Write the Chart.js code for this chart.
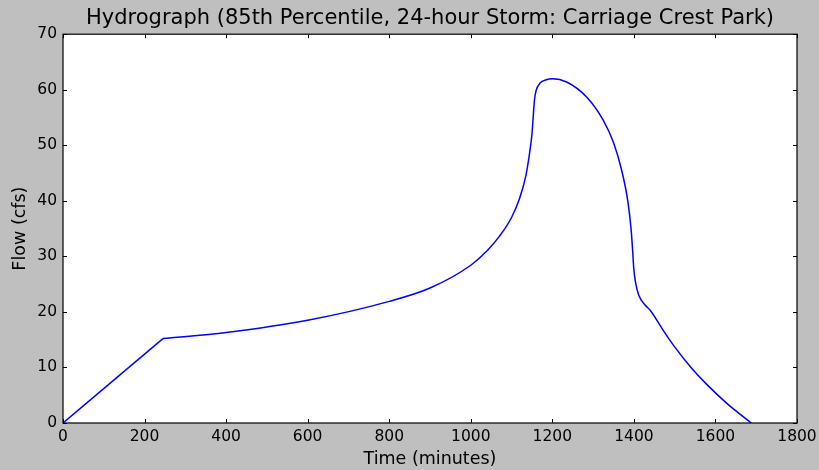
<!DOCTYPE html>
<html>
<head>
<meta charset="utf-8">
<script src="https://cdn.jsdelivr.net/npm/chart.js@4"></script>
<style>
  html, body { margin: 0; padding: 0; background: #bfbfbf; }
  #wrap { width: 819px; height: 470px; }
</style>
</head>
<body>
<div id="wrap"><canvas id="hydro" width="819" height="470"></canvas></div>
<script>
// rising limb (straight line)
const riseTime = [0, 245];
const riseFlow = [0, 15.2];

// rest of the hydrograph
const timeMin = [245, 400, 600, 800, 900, 1000, 1040, 1070, 1100, 1120, 1135, 1145, 1150, 1153, 1156, 1160, 1170, 1185, 1200, 1235, 1284, 1325, 1350, 1370, 1385, 1393, 1397, 1399.5, 1404, 1412, 1428, 1440, 1470, 1500, 1540, 1578, 1630, 1688];
const flowCfs = [15.2, 16.3, 18.5, 21.9, 24.3, 28.4, 31.0, 33.6, 37.0, 40.5, 44.5, 49.0, 52.0, 55.0, 58.0, 59.8, 61.2, 61.8, 62.0, 61.4, 58.7, 54.5, 50.5, 45.5, 40.0, 35.0, 31.0, 28.0, 25.3, 23.0, 21.2, 20.3, 16.9, 13.7, 10.0, 7.0, 3.4, 0];

const xTicks = [0, 200, 400, 600, 800, 1000, 1200, 1400, 1600, 1800];
const yTicks = [0, 10, 20, 30, 40, 50, 60, 70];

const FONT = "'DejaVu Sans', Verdana, sans-serif";
const LINE = '#0000ff';

// white plot area, black frame, inward ticks on all four sides
const framePlugin = {
  id: 'frame',
  beforeDraw(chart) {
    const { ctx, chartArea: a } = chart;
    ctx.save();
    ctx.fillStyle = '#ffffff';
    ctx.fillRect(a.left, a.top, a.right - a.left, a.bottom - a.top);
    ctx.restore();
  },
  afterDraw(chart) {
    const { ctx, chartArea: a, scales } = chart;
    const len = 4;
    ctx.save();
    ctx.strokeStyle = '#000000';
    ctx.lineWidth = 1;
    ctx.beginPath();
    xTicks.forEach(v => {
      const px = Math.round(scales.x.getPixelForValue(v)) + 0.5;
      ctx.moveTo(px, a.bottom); ctx.lineTo(px, a.bottom - len);
      ctx.moveTo(px, a.top); ctx.lineTo(px, a.top + len);
    });
    yTicks.forEach(v => {
      const py = Math.round(scales.y.getPixelForValue(v)) + 0.5;
      ctx.moveTo(a.left, py); ctx.lineTo(a.left + len, py);
      ctx.moveTo(a.right, py); ctx.lineTo(a.right - len, py);
    });
    ctx.stroke();
    ctx.lineWidth = 1.2;
    ctx.strokeRect(a.left, a.top, a.right - a.left, a.bottom - a.top);
    ctx.restore();
  }
};

const ctx = document.getElementById('hydro').getContext('2d');

new Chart(ctx, {
  type: 'scatter',
  data: {
    datasets: [{
      label: 'Rising limb',
      data: riseTime.map((t, i) => ({ x: t, y: riseFlow[i] })),
      showLine: true,
      borderColor: LINE,
      borderWidth: 1.5,
      pointRadius: 0,
      tension: 0,
      fill: false
    }, {
      label: 'Flow',
      data: timeMin.map((t, i) => ({ x: t, y: flowCfs[i] })),
      showLine: true,
      borderColor: LINE,
      borderWidth: 1.5,
      pointRadius: 0,
      cubicInterpolationMode: 'monotone',
      fill: false
    }]
  },
  options: {
    responsive: false,
    animation: false,
    layout: { padding: { left: 0, right: 22, top: 0, bottom: 0 } },
    plugins: {
      legend: { display: false },
      tooltip: { enabled: false },
      title: {
        display: true,
        fullSize: false,
        text: 'Hydrograph (85th Percentile, 24-hour Storm: Carriage Crest Park)',
        color: '#000000',
        font: { family: FONT, size: 21, weight: 'normal' },
        padding: { top: 6, bottom: 3 }
      }
    },
    scales: {
      x: {
        type: 'linear',
        min: 0,
        max: 1800,
        afterBuildTicks: s => { s.ticks = xTicks.map(v => ({ value: v })); },
        afterFit: s => { s.height = 47; s.paddingRight = 0; s.paddingLeft = 0; },
        grid: { display: false, drawTicks: false },
        border: { display: false },
        ticks: {
          color: '#000000',
          font: { family: FONT, size: 15.5 },
          padding: 5,
          maxRotation: 0,
          callback: v => String(v)
        },
        title: {
          display: true,
          text: 'Time (minutes)',
          color: '#000000',
          font: { family: FONT, size: 17.5 },
          padding: { top: 0, bottom: 0 }
        }
      },
      y: {
        type: 'linear',
        min: 0,
        max: 70,
        afterBuildTicks: s => { s.ticks = yTicks.map(v => ({ value: v })); },
        afterFit: s => { s.width = 63; s.paddingTop = 0; s.paddingBottom = 0; },
        grid: { display: false, drawTicks: false },
        border: { display: false },
        ticks: {
          color: '#000000',
          font: { family: FONT, size: 15.5 },
          padding: 6,
          callback: v => String(v)
        },
        title: {
          display: true,
          text: 'Flow (cfs)',
          color: '#000000',
          font: { family: FONT, size: 17.5 },
          padding: { top: 10, bottom: 0 }
        }
      }
    }
  },
  plugins: [framePlugin]
});
</script>
</body>
</html>
